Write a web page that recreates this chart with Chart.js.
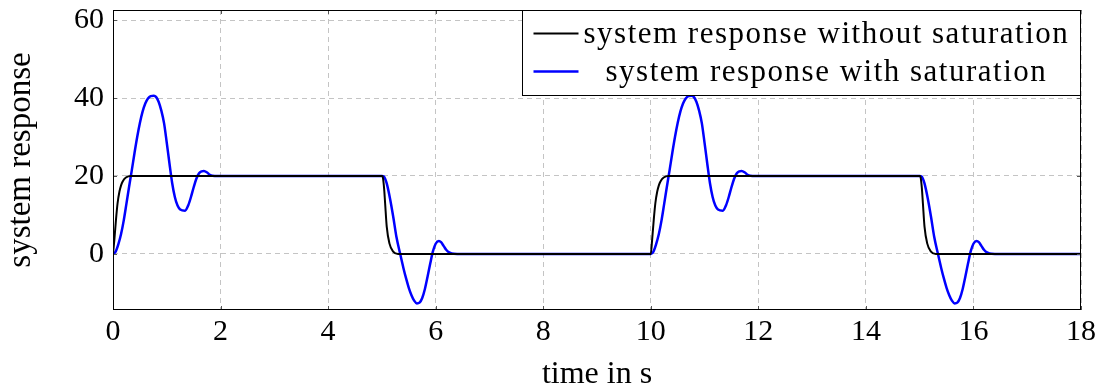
<!DOCTYPE html>
<html>
<head>
<meta charset="utf-8">
<script src="https://cdn.jsdelivr.net/npm/chart.js@4"></script>
<style>
  html, body { margin: 0; padding: 0; background: #ffffff; }
  #wrap { width: 1098px; height: 387px; }
</style>
</head>
<body>
<div id="wrap"><canvas id="c" width="1098" height="387"></canvas></div>
<script>
// Reference input switches between 0 and 20 at these instants
const stepTimes = [0, 5, 10, 15];
const stepKinds = ['rise', 'fall', 'rise', 'fall'];
const endTime = 18;

// Response without saturation: time since step (s) and value
const riseTimeFree  = [0, 0.025, 0.055, 0.085, 0.12, 0.15, 0.18, 0.24, 0.33];
const riseValueFree = [0, 3.6, 8.7, 13, 16, 17.6, 18.6, 19.6, 20];
const fallTimeFree  = [0, 0.015, 0.04, 0.06, 0.09, 0.14, 0.21, 0.3];
const fallValueFree = [20, 19.8, 17, 13, 7, 2.7, 0.6, 0];

// Response with saturation: time since step (s) and value
const riseTimeSat  = [0, 0.05, 0.1, 0.15, 0.2, 0.25, 0.3, 0.35, 0.4, 0.45, 0.5, 0.55, 0.6, 0.65, 0.7, 0.76,
                      0.8, 0.85, 0.9, 0.95, 1.0, 1.05, 1.1, 1.15, 1.2, 1.25, 1.34, 1.4, 1.45, 1.5, 1.55,
                      1.6, 1.65, 1.69, 1.75, 1.8, 1.85, 1.95];
const riseValueSat = [0, 0.6, 2.5, 5.1, 8.6, 12.9, 17.3, 21.5, 25.9, 30, 33.6, 36.5, 38.6, 39.9, 40.5, 40.6,
                      40.3, 39, 36.7, 33.5, 28.5, 23.2, 18.2, 14.6, 12.4, 11.4, 11.1, 12.5, 14.6, 17.1, 19.3,
                      20.7, 21.2, 21.3, 20.9, 20.3, 20.05, 20];
const fallTimeSat  = [0, 0.03, 0.06, 0.09, 0.15, 0.21, 0.27, 0.34, 0.4, 0.45, 0.5, 0.55, 0.6, 0.65, 0.7,
                      0.75, 0.8, 0.85, 0.9, 0.95, 1.0, 1.06, 1.1, 1.15, 1.2, 1.25, 1.3, 1.4];
const fallValueSat = [20, 19.9, 19.3, 18.1, 14.3, 9.6, 4.4, 0, -3.6, -6.3, -8.7, -10.6, -12, -12.7, -12.5,
                      -11.3, -9, -5.8, -2.4, 0.7, 2.6, 3.3, 3.0, 2.0, 1.0, 0.4, 0.1, 0];

const xTicks = [0, 2, 4, 6, 8, 10, 12, 14, 16, 18];
const yTicks = [0, 20, 40, 60];
const seriesLabels = ['system response without saturation', 'system response with saturation'];

function buildSeries(riseT, riseV, fallT, fallV) {
  const pts = [];
  stepTimes.forEach((t0, i) => {
    const rise = stepKinds[i] === 'rise';
    const T = rise ? riseT : fallT;
    const V = rise ? riseV : fallV;
    T.forEach((dt, k) => pts.push({ x: t0 + dt, y: V[k] }));
  });
  pts.push({ x: endTime, y: pts[pts.length - 1].y });
  return pts;
}

const SERIF = "'Liberation Serif', 'DejaVu Serif', serif";

// Boxed legend in the upper right corner, plus the plot frame with inner tick marks
const frameLegend = {
  id: 'frameLegend',
  afterDraw(chart) {
    const { ctx, chartArea: a, scales } = chart;
    ctx.save();
    // inner tick marks
    ctx.strokeStyle = '#555555';
    ctx.lineWidth = 1;
    const tl = 4;
    scales.x.ticks.forEach(t => {
      const px = Math.round(scales.x.getPixelForValue(t.value)) + 0.5;
      ctx.beginPath();
      ctx.moveTo(px, a.bottom); ctx.lineTo(px, a.bottom - tl);
      ctx.moveTo(px, a.top); ctx.lineTo(px, a.top + tl);
      ctx.stroke();
    });
    scales.y.ticks.forEach(t => {
      const py = Math.round(scales.y.getPixelForValue(t.value)) + 0.5;
      ctx.beginPath();
      ctx.moveTo(a.left, py); ctx.lineTo(a.left + tl, py);
      ctx.moveTo(a.right, py); ctx.lineTo(a.right - tl, py);
      ctx.stroke();
    });
    // frame
    ctx.strokeStyle = '#000000';
    ctx.lineWidth = 1;
    ctx.strokeRect(Math.round(a.left) + 0.5, Math.round(a.top) + 0.5,
                   Math.round(a.right - a.left) - 1, Math.round(a.bottom - a.top) - 1);

    // legend
    ctx.font = '31px ' + SERIF;
    if ('letterSpacing' in ctx) ctx.letterSpacing = '1.5px';
    const ds = chart.data.datasets;
    const widths = ds.map(d => ctx.measureText(d.label).width);
    const textW = Math.max(...widths);
    const padL = 11, sample = 45, gap = 5, padR = 12;
    const boxW = padL + sample + gap + textW + padR;
    const boxH = 85;
    const bx = Math.round(a.right - boxW) + 0.5;
    const by = Math.round(a.top) + 0.5;
    ctx.fillStyle = '#ffffff';
    ctx.fillRect(bx, by, boxW, boxH);
    ctx.strokeStyle = '#000000';
    ctx.strokeRect(bx, by, Math.round(a.right) - 0.5 - bx, boxH);
    const rows = [23, 61];
    ds.forEach((d, i) => {
      const ry = by + rows[i];
      ctx.strokeStyle = d.borderColor;
      ctx.lineWidth = d.borderWidth;
      ctx.beginPath();
      ctx.moveTo(bx + padL, ry); ctx.lineTo(bx + padL + sample, ry);
      ctx.stroke();
      ctx.fillStyle = '#000000';
      ctx.textAlign = 'center';
      ctx.textBaseline = 'middle';
      ctx.fillText(d.label, bx + padL + sample + gap + textW / 2, ry + 1);
    });
    if ('letterSpacing' in ctx) ctx.letterSpacing = '0px';
    ctx.restore();
  }
};

new Chart(document.getElementById('c'), {
  type: 'line',
  data: {
    datasets: [
      {
        label: seriesLabels[0],
        data: buildSeries(riseTimeFree, riseValueFree, fallTimeFree, fallValueFree),
        borderColor: '#000000',
        borderWidth: 2,
        pointRadius: 0,
        cubicInterpolationMode: 'monotone',
        fill: false
      },
      {
        label: seriesLabels[1],
        data: buildSeries(riseTimeSat, riseValueSat, fallTimeSat, fallValueSat),
        borderColor: '#0000ff',
        borderWidth: 2.5,
        pointRadius: 0,
        cubicInterpolationMode: 'monotone',
        fill: false
      }
    ]
  },
  options: {
    responsive: false,
    animation: false,
    events: [],
    layout: { padding: { left: 0, top: 10, right: 17, bottom: 0 } },
    plugins: { legend: { display: false }, tooltip: { enabled: false } },
    scales: {
      x: {
        type: 'linear',
        min: 0, max: 18,
        afterFit: s => { s.height = 77; s.paddingLeft = 0; s.paddingRight = 0; },
        afterBuildTicks: s => { s.ticks = xTicks.map(v => ({ value: v })); },
        grid: { color: '#c4c4c4', lineWidth: 1, drawTicks: false },
        border: { display: false, dash: [5, 4] },
        ticks: { color: '#000000', padding: 4, maxRotation: 0, font: { family: SERIF, size: 30 } },
        title: { display: true, text: 'time in s', color: '#000000',
                 font: { family: SERIF, size: 32, lineHeight: 1 }, padding: { top: 0, bottom: -4 } }
      },
      y: {
        type: 'linear',
        min: -14.4, max: 62.6,
        afterFit: s => { s.width = 113; s.paddingTop = 0; s.paddingBottom = 0; },
        afterBuildTicks: s => { s.ticks = yTicks.map(v => ({ value: v })); },
        grid: { color: '#c4c4c4', lineWidth: 1, drawTicks: false },
        border: { display: false, dash: [5, 4] },
        ticks: { color: '#000000', padding: 9, font: { family: SERIF, size: 30 } },
        title: { display: true, text: 'system response', color: '#000000',
                 font: { family: SERIF, size: 33, lineHeight: 1.2 }, padding: { top: 2, bottom: 0 } }
      }
    }
  },
  plugins: [frameLegend]
});
</script>
</body>
</html>
